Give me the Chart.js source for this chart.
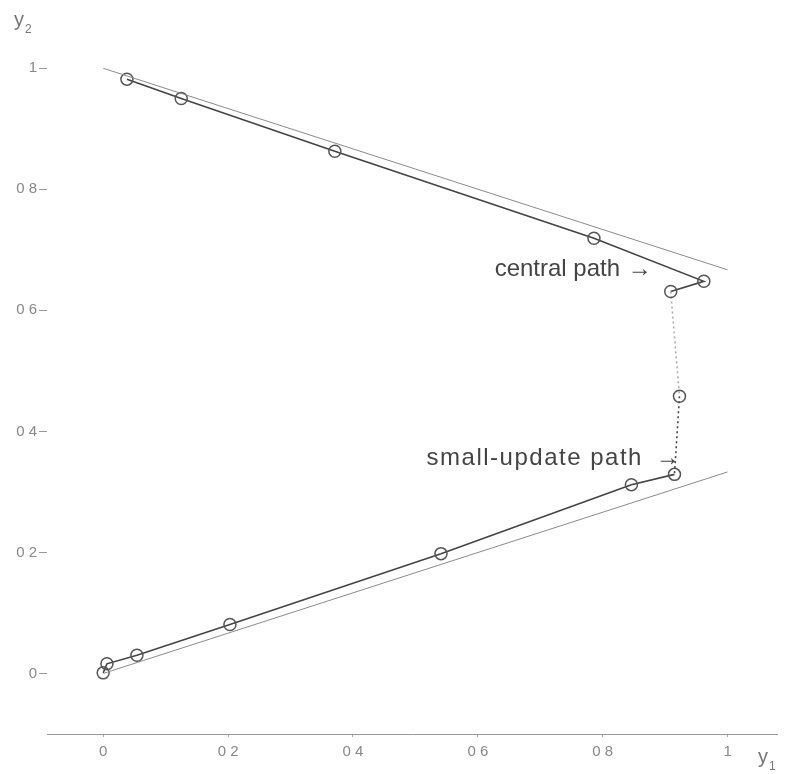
<!DOCTYPE html>
<html>
<head>
<meta charset="utf-8">
<script src="https://cdn.jsdelivr.net/npm/chart.js@4.4.1/dist/chart.umd.min.js"></script>
<style>
  html, body { margin: 0; padding: 0; background: #fff; }
  #wrap { width: 785px; height: 774px; }
</style>
</head>
<body>
<div id="wrap"><canvas id="chart" width="785" height="774"></canvas></div>
<script>
// iterates of the path (y1, y2), in order from top-left round to the origin
const pathX = [0.038, 0.125, 0.371, 0.786, 0.962, 0.909, 0.923, 0.915, 0.846, 0.541, 0.203, 0.054, 0.006, 0.0];
const pathY = [0.982, 0.950, 0.863, 0.719, 0.648, 0.631, 0.458, 0.329, 0.312, 0.198, 0.081, 0.030, 0.016, 0.001];

// constraint lines
const upperX = [0, 1];
const upperY = [1, 0.667];
const lowerX = [0, 1];
const lowerY = [0, 0.333];

const xTicks = [0, 0.2, 0.4, 0.6, 0.8, 1];
const xTickLabels = ['0', '0 2', '0 4', '0 6', '0 8', '1'];
const yTicks = [0, 0.2, 0.4, 0.6, 0.8, 1];
const yTickLabels = ['0', '0 2', '0 4', '0 6', '0 8', '1'];

const notes = [
  { text: 'central path', x: 0.627, y: 0.668, arrowX: 0.84, spacing: 0 },
  { text: 'small-update path', x: 0.518, y: 0.355, arrowX: 0.885, spacing: 1.5 },
];

// dotted stretch of the path (segment index range)
const dottedFrom = 5;
const dottedTo = 7;

function toPoints(xs, ys) {
  return xs.map((x, i) => ({ x, y: ys[i] }));
}

const labelPlugin = {
  id: 'labels',
  afterDraw(chart) {
    const ctx = chart.ctx;
    const xs = chart.scales.x;
    const ys = chart.scales.y;
    ctx.save();
    ctx.fillStyle = '#444';
    ctx.font = '24px "Liberation Sans", Arial, sans-serif';
    ctx.textBaseline = 'middle';
    ctx.textAlign = 'left';
    notes.forEach((n) => {
      const py = ys.getPixelForValue(n.y);
      ctx.letterSpacing = n.spacing + 'px';
      ctx.fillText(n.text, xs.getPixelForValue(n.x), py);
      ctx.letterSpacing = '0px';
      ctx.fillText('\u2192', xs.getPixelForValue(n.arrowX), py);
    });

    // axis names
    ctx.fillStyle = '#777';
    ctx.textBaseline = 'alphabetic';
    ctx.font = '20px "Liberation Sans", Arial, sans-serif';
    ctx.fillText('y', 14, 26);
    ctx.fillText('y', 758, 763);
    ctx.font = '12px "Liberation Sans", Arial, sans-serif';
    ctx.fillText('2', 25, 33);
    ctx.fillText('1', 769, 770);
    ctx.restore();
  },
};

new Chart(document.getElementById('chart'), {
  type: 'scatter',
  data: {
    datasets: [
      {
        data: toPoints(upperX, upperY),
        showLine: true,
        borderColor: '#8a8a8a',
        borderWidth: 1,
        pointRadius: 0,
      },
      {
        data: toPoints(lowerX, lowerY),
        showLine: true,
        borderColor: '#8a8a8a',
        borderWidth: 1,
        pointRadius: 0,
      },
      {
        data: toPoints(pathX, pathY),
        showLine: true,
        borderColor: '#444',
        borderWidth: 1.6,
        pointRadius: 6,
        pointStyle: 'circle',
        pointBorderColor: '#555',
        pointBorderWidth: 1.5,
        pointBackgroundColor: 'rgba(0,0,0,0)',
        segment: {
          borderDash: (c) => (c.p0DataIndex >= dottedFrom && c.p0DataIndex < dottedTo ? [2, 3] : undefined),
          borderColor: (c) => (c.p0DataIndex === dottedFrom ? '#aaa' : undefined),
        },
      },
    ],
  },
  options: {
    responsive: false,
    animation: false,
    layout: { padding: { top: 38, right: 0, left: 0, bottom: 0 } },
    plugins: {
      legend: { display: false },
      tooltip: { enabled: false },
    },
    scales: {
      x: {
        type: 'linear',
        min: -0.09,
        max: 1.08,
        afterFit: (scale) => { scale.height = 40; },
        afterBuildTicks: (scale) => { scale.ticks = xTicks.map((v) => ({ value: v })); },
        border: { display: true, color: '#999', width: 1 },
        grid: { display: true, drawOnChartArea: false, drawTicks: true, tickLength: 3, color: '#aaa' },
        ticks: {
          padding: 6,
          color: '#888',
          font: { family: '"Liberation Sans", Arial, sans-serif', size: 15 },
          callback: (v) => {
            const i = xTicks.indexOf(v);
            return i >= 0 ? xTickLabels[i] : '';
          },
        },
      },
      y: {
        type: 'linear',
        min: -0.1,
        max: 1.05,
        afterFit: (scale) => { scale.width = 47; },
        afterBuildTicks: (scale) => { scale.ticks = yTicks.map((v) => ({ value: v })); },
        border: { display: false },
        grid: { display: true, drawOnChartArea: false, drawTicks: true, tickLength: 8, color: '#999' },
        ticks: {
          padding: 2,
          color: '#888',
          font: { family: '"Liberation Sans", Arial, sans-serif', size: 15 },
          callback: (v) => {
            const i = yTicks.indexOf(v);
            return i >= 0 ? yTickLabels[i] : '';
          },
        },
      },
    },
  },
  plugins: [labelPlugin],
});
</script>
</body>
</html>
